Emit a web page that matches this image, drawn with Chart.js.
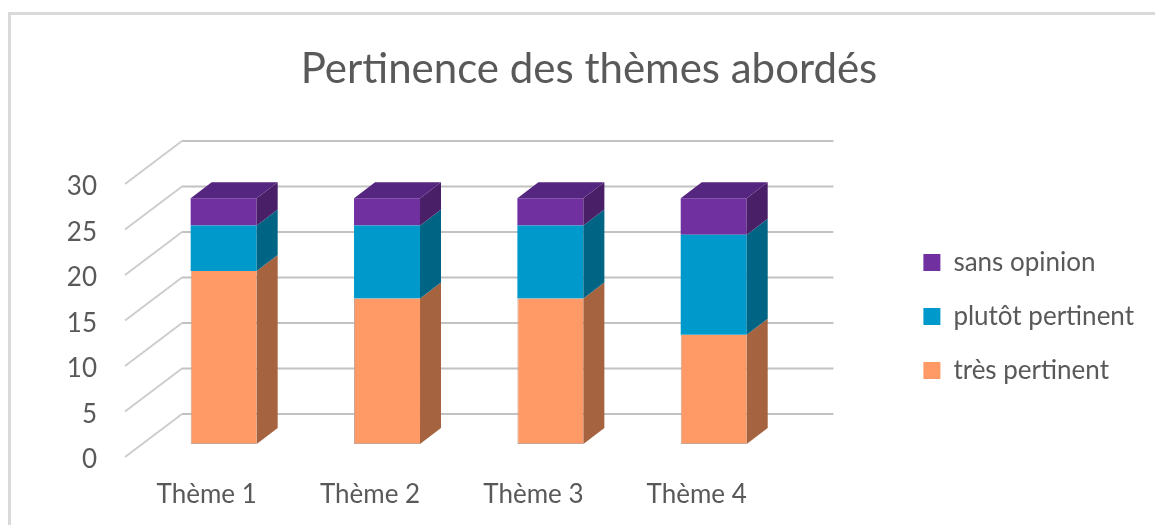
<!DOCTYPE html>
<html lang="fr">
<head>
<meta charset="utf-8">
<title>Pertinence des thèmes abordés</title>
<script src="https://cdn.jsdelivr.net/npm/chart.js@4"></script>
<style>
	html, body { margin: 0; padding: 0; background: #fff; overflow: hidden; }
	#frame { position: absolute; left: 8px; top: 12px; right: -10px; bottom: -10px; border-left: 3px solid #d9d9d9; border-top: 3px solid #d9d9d9; }
	canvas { position: absolute; left: 0; top: 0; }
</style>
</head>
<body>
<div id="frame"></div>
<canvas id="chart" width="1155" height="525"></canvas>
<script>
var categories = ['Thème 1', 'Thème 2', 'Thème 3', 'Thème 4'];
var tresPertinent = [19, 16, 16, 12];
var plutotPertinent = [5, 8, 8, 11];
var sansOpinion = [3, 3, 3, 4];

var textColor = '#595959';
var fontName = 'Lato';
// fake 3d: how far the bars go back, and how far the wall is behind the axis labels
var depthX = 21, depthY = 16;
var wallX = 40, wallY = 30;
var floorX = 17, floorY = 13;

var depthPlugin = {
	id: 'depth',
	afterLayout: function (chart) {
		// legend and title sit further right than the layout would put them
		chart.legend.left += 100;
		chart.legend.right += 100;
		chart.legend.top += 54;
		chart.legend.bottom += 54;
		chart.titleBlock.left += 54;
		chart.titleBlock.right += 54;
	},
	beforeDatasetsDraw: function (chart) {
		var ctx = chart.ctx;
		var y = chart.scales.y;
		var left = chart.chartArea.left, right = chart.chartArea.right;
		ctx.save();
		ctx.lineWidth = 2;
		y.ticks.forEach(function (t) {
			var py = y.getPixelForValue(t.value);
			ctx.strokeStyle = '#cdcdcd';
			ctx.beginPath();
			ctx.moveTo(left - floorX, py + floorY);
			ctx.lineTo(left + wallX, py - wallY);
			ctx.stroke();
			ctx.strokeStyle = '#c2c2c2';
			ctx.beginPath();
			ctx.moveTo(left + wallX, py - wallY);
			ctx.lineTo(right + wallX - 2, py - wallY);
			ctx.stroke();
		});
		ctx.restore();
	},
	afterDatasetsDraw: function (chart) {
		var ctx = chart.ctx;
		var last = chart.data.datasets.length - 1;
		ctx.save();
		chart.data.datasets.forEach(function (ds, i) {
			chart.getDatasetMeta(i).data.forEach(function (bar) {
				var p = bar.getProps(['x', 'y', 'base', 'width'], true);
				var r = p.x + p.width / 2, l = p.x - p.width / 2;
				ctx.fillStyle = ds.sideColor;
				ctx.beginPath();
				ctx.moveTo(r, p.y);
				ctx.lineTo(r + depthX, p.y - depthY);
				ctx.lineTo(r + depthX, p.base - depthY);
				ctx.lineTo(r, p.base);
				ctx.closePath();
				ctx.fill();
				if (i === last) {
					ctx.fillStyle = ds.topColor;
					ctx.beginPath();
					ctx.moveTo(l, p.y);
					ctx.lineTo(l + depthX, p.y - depthY);
					ctx.lineTo(r + depthX, p.y - depthY);
					ctx.lineTo(r, p.y);
					ctx.closePath();
					ctx.fill();
				}
			});
		});
		ctx.restore();
	}
};

new Chart(document.getElementById('chart'), {
	type: 'bar',
	data: {
		labels: categories,
		datasets: [
			{ label: 'très pertinent', data: tresPertinent, backgroundColor: '#FF9966', sideColor: '#A66340', borderColor: '#c9a48f', borderWidth: { left: 1, bottom: 1 }, borderSkipped: false },
			{ label: 'plutôt pertinent', data: plutotPertinent, backgroundColor: '#0099CC', sideColor: '#006485' },
			{ label: 'sans opinion', data: sansOpinion, backgroundColor: '#7030A0', sideColor: '#491F68', topColor: '#552680' }
		]
	},
	plugins: [depthPlugin],
	options: {
		responsive: false,
		animation: false,
		layout: { padding: { left: 26, right: 111, top: 0, bottom: 0 } },
		datasets: { bar: { barPercentage: 0.404, categoryPercentage: 1 } },
		plugins: {
			tooltip: { enabled: false },
			title: {
				display: true,
				text: 'Pertinence des thèmes abordés',
				color: textColor,
				font: { family: fontName, size: 42, weight: 'normal' },
				padding: { top: 44, bottom: 76.6 }
			},
			legend: {
				position: 'right',
				reverse: true,
				labels: {
					color: textColor,
					font: { family: fontName, size: 26 },
					boxWidth: 17,
					boxHeight: 17,
					padding: 28,
					generateLabels: function (chart) {
						// swatches without the edge line of the orange bars
						return Chart.defaults.plugins.legend.labels.generateLabels(chart).map(function (item) {
							item.lineWidth = 0;
							return item;
						});
					}
				}
			}
		},
		scales: {
			x: {
				stacked: true,
				grid: { display: false, drawTicks: false },
				border: { display: false },
				ticks: { color: textColor, font: { family: fontName, size: 26 }, padding: 35, labelOffset: -17, maxRotation: 0 },
				afterFit: function (s) { s.height = 81; }
			},
			y: {
				stacked: true,
				min: 0,
				max: 30,
				grid: { display: false, drawTicks: false },
				border: { display: false },
				ticks: { color: textColor, font: { family: fontName, size: 26 }, stepSize: 5, padding: 45, labelOffset: 16 },
				afterFit: function (s) { s.width = 116; }
			}
		}
	}
});
</script>
</body>
</html>
